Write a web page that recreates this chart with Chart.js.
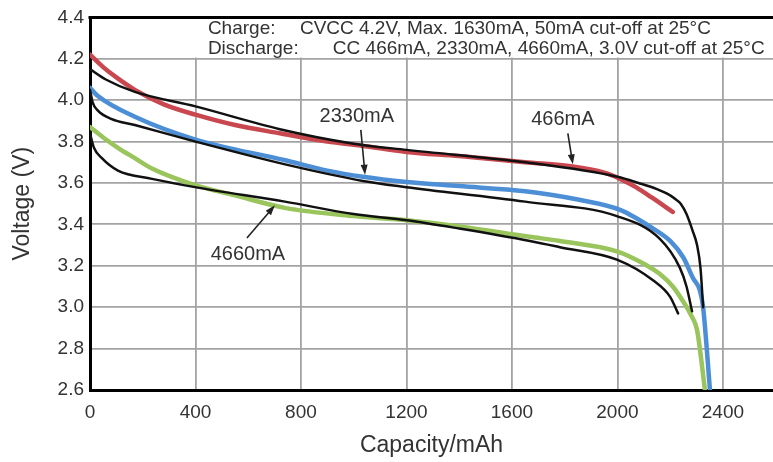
<!DOCTYPE html>
<html>
<head>
<meta charset="utf-8">
<script src="https://cdn.jsdelivr.net/npm/chart.js@4.4.1/dist/chart.umd.min.js"></script>
<style>
html, body { margin: 0; padding: 0; background: #fff; }
#caixa { width: 773px; height: 462px; }
</style>
</head>
<body>
<div id="caixa"><canvas id="grafico_descarga"></canvas></div>
<script>
// curvas de descarga (capacidade em mAh, tensao em V)
const cap_466 = [0, 50, 100, 170, 280, 400, 550, 720, 900, 1030, 1200, 1400, 1650, 1830, 1950, 2010, 2070, 2130, 2210]
const volt_466 = [4.22, 4.16, 4.11, 4.05, 3.98, 3.93, 3.88, 3.84, 3.80, 3.78, 3.75, 3.73, 3.70, 3.68, 3.65, 3.62, 3.58, 3.53, 3.46]

const cap_466_ref = [0, 60, 170, 400, 720, 1000, 1200, 1650, 2000, 2080, 2150, 2200, 2222, 2240, 2262, 2285, 2302, 2315, 2325]
const volt_466_ref = [4.15, 4.10, 4.04, 3.97, 3.86, 3.79, 3.76, 3.70, 3.63, 3.60, 3.57, 3.54, 3.52, 3.50, 3.45, 3.37, 3.30, 3.19, 3.00]

const cap_2330 = [0, 30, 170, 400, 740, 900, 1035, 1200, 1400, 1650, 1850, 2010, 2135, 2200, 2250, 2287, 2313, 2325, 2351]
const volt_2330 = [4.06, 4.02, 3.92, 3.81, 3.71, 3.66, 3.63, 3.605, 3.585, 3.56, 3.52, 3.47, 3.38, 3.32, 3.24, 3.14, 3.08, 3.00, 2.60]

const cap_2330_ref = [0, 10, 30, 80, 170, 400, 740, 1035, 1200, 1650, 1998, 2161, 2237, 2262, 2283]
const volt_2330_ref = [4.05, 3.99, 3.95, 3.91, 3.88, 3.80, 3.69, 3.61, 3.58, 3.51, 3.44, 3.33, 3.19, 3.10, 2.98]

const cap_4660 = [0, 50, 106, 170, 235, 398, 550, 739, 1000, 1202, 1400, 1668, 1782, 1998, 2100, 2161, 2210, 2248, 2280, 2302, 2332]
const volt_4660 = [3.87, 3.82, 3.77, 3.72, 3.67, 3.59, 3.54, 3.48, 3.44, 3.42, 3.39, 3.34, 3.32, 3.27, 3.21, 3.16, 3.10, 3.03, 2.96, 2.89, 2.60]

const cap_4660_ref = [0, 15, 45, 106, 235, 398, 739, 1000, 1202, 1400, 1668, 1782, 1998, 2135, 2200, 2230]
const volt_4660_ref = [3.84, 3.77, 3.72, 3.66, 3.62, 3.58, 3.51, 3.45, 3.42, 3.38, 3.32, 3.29, 3.23, 3.13, 3.05, 2.97]

const ticks_x = [0, 400, 800, 1200, 1600, 2000, 2400]

const vermelho = '#c9484f'
const azul = '#4d8fd6'
const verde = '#9ac45c'
const preto = '#111111'

const fonte = 'Liberation Sans, Arial, Helvetica, sans-serif'

function pontos(xs, ys) {
    return xs.map((x, i) => ({ x: x, y: ys[i] }))
}

function serie(nome, xs, ys, cor, largura) {
    return {
        label: nome,
        data: pontos(xs, ys),
        borderColor: cor,
        backgroundColor: cor,
        borderWidth: largura,
        pointRadius: 0,
        fill: false,
        cubicInterpolationMode: 'monotone',
        borderCapStyle: 'round',
        borderJoinStyle: 'round'
    }
}

// caixa branca do cabecalho, borda superior, textos e setas
const anotacoes = {
    id: 'anotacoes',
    beforeDatasetsDraw(chart) {
        const { ctx, chartArea, scales } = chart
        const esq = scales.x.getPixelForValue(390)
        const fundo = scales.y.getPixelForValue(4.2) - 1.2
        ctx.save()
        ctx.fillStyle = '#ffffff'
        ctx.fillRect(esq, chartArea.top + 1.5, chartArea.right - esq, fundo - chartArea.top - 1.5)
        ctx.restore()
    },
    afterDraw(chart) {
        const { ctx, chartArea, scales } = chart
        const px = v => scales.x.getPixelForValue(v)
        const py = v => scales.y.getPixelForValue(v)
        ctx.save()
        // borda superior
        ctx.strokeStyle = '#000'
        ctx.lineWidth = 3
        ctx.beginPath()
        ctx.moveTo(chartArea.left - 1.5, chartArea.top)
        ctx.lineTo(chartArea.right, chartArea.top)
        ctx.stroke()

        ctx.fillStyle = '#333'
        ctx.textBaseline = 'middle'
        ctx.textAlign = 'left'
        ctx.font = '19px ' + fonte
        ctx.fillText('Charge:', px(447), py(4.346))
        ctx.fillText('CVCC 4.2V, Max. 1630mA, 50mA cut-off at 25\u00B0C', px(796), py(4.346))
        ctx.fillText('Discharge:', px(447), py(4.248))
        ctx.fillText('CC 466mA, 2330mA, 4660mA, 3.0V cut-off at 25\u00B0C', px(921), py(4.248))

        ctx.font = '20px ' + fonte
        ctx.textAlign = 'center'
        ctx.fillText('2330mA', px(1012), py(3.919))
        ctx.fillText('466mA', px(1793), py(3.905))
        ctx.fillText('4660mA', px(599), py(3.257))

        seta(ctx, px(1027), py(3.857), px(1043), py(3.64))
        seta(ctx, px(1812), py(3.84), px(1831), py(3.69))
        seta(ctx, px(595), py(3.334), px(701), py(3.492))
        ctx.restore()
    }
}

function seta(ctx, x1, y1, x2, y2) {
    const ang = Math.atan2(y2 - y1, x2 - x1)
    ctx.strokeStyle = '#222'
    ctx.fillStyle = '#222'
    ctx.lineWidth = 1.6
    ctx.beginPath()
    ctx.moveTo(x1, y1)
    ctx.lineTo(x2 - 6 * Math.cos(ang), y2 - 6 * Math.sin(ang))
    ctx.stroke()
    ctx.beginPath()
    ctx.moveTo(x2, y2)
    ctx.lineTo(x2 - 10 * Math.cos(ang) + 3.5 * Math.sin(ang), y2 - 10 * Math.sin(ang) - 3.5 * Math.cos(ang))
    ctx.lineTo(x2 - 10 * Math.cos(ang) - 3.5 * Math.sin(ang), y2 - 10 * Math.sin(ang) + 3.5 * Math.cos(ang))
    ctx.closePath()
    ctx.fill()
}

const data = {
    datasets: [
        serie('466mA (ref)', cap_466_ref, volt_466_ref, preto, 2.5),
        serie('2330mA (ref)', cap_2330_ref, volt_2330_ref, preto, 2.5),
        serie('4660mA (ref)', cap_4660_ref, volt_4660_ref, preto, 2.5),
        serie('466mA', cap_466, volt_466, vermelho, 4.5),
        serie('2330mA', cap_2330, volt_2330, azul, 4.5),
        serie('4660mA', cap_4660, volt_4660, verde, 4.5)
    ]
}

const config = {
    type: 'line',
    data: data,
    options: {
        responsive: true,
        maintainAspectRatio: false,
        animation: false,
        layout: { padding: { top: 15, right: 0, bottom: 0, left: 0 } },
        plugins: {
            legend: { display: false },
            tooltip: { enabled: false }
        },
        scales: {
            x: {
                type: 'linear',
                min: 0,
                max: 2590,
                afterBuildTicks: s => { s.ticks = ticks_x.map(v => ({ value: v })) },
                afterFit: s => { s.height = 72 },
                ticks: {
                    color: '#333',
                    font: { family: fonte, size: 19 },
                    padding: 11,
                    maxRotation: 0,
                    callback: v => String(v)
                },
                grid: { color: '#a3a3a3', lineWidth: 1.8, drawTicks: false },
                border: { color: '#000', width: 3 },
                title: {
                    display: true,
                    text: 'Capacity/mAh',
                    color: '#333',
                    font: { family: fonte, size: 23 },
                    padding: { top: 0, bottom: 3 }
                }
            },
            y: {
                min: 2.6,
                max: 4.4,
                afterFit: s => { s.width = 90 },
                ticks: {
                    stepSize: 0.2,
                    color: '#333',
                    font: { family: fonte, size: 19 },
                    padding: 6,
                    callback: v => v.toFixed(1)
                },
                grid: { color: '#a3a3a3', lineWidth: 1.8, drawTicks: false },
                border: { color: '#000', width: 3 },
                title: {
                    display: true,
                    text: 'Voltage (V)',
                    color: '#333',
                    font: { family: fonte, size: 23 },
                    padding: { top: 9, bottom: 0 }
                }
            }
        }
    },
    plugins: [anotacoes]
}

const grafico = new Chart(document.querySelector('#grafico_descarga'), config)
</script>
</body>
</html>
